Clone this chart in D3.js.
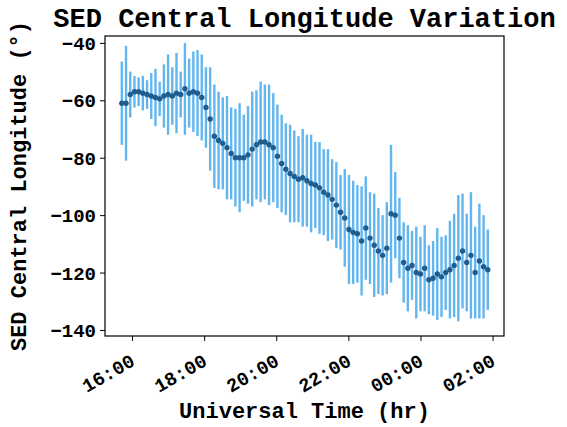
<!DOCTYPE html>
<html>
<head>
<meta charset="utf-8">
<script src="https://cdn.jsdelivr.net/npm/d3@7"></script>
<style>
  body { margin: 0; background: #fff; }
  svg text { font-family: "Liberation Mono", "DejaVu Sans Mono", monospace; font-weight: bold; fill: #000; }
</style>
</head>
<body>
<div id="chart"></div>
<script>
// observation times (UT), one every ~7 min, run crosses midnight
const times = [
  "15:43","15:50","15:57","16:04","16:11","16:18","16:25","16:32","16:39","16:46",
  "16:53","17:00","17:07","17:14","17:21","17:28","17:35","17:42","17:49","17:56",
  "18:03","18:10","18:17","18:24","18:31","18:38","18:45","18:52","18:59","19:06",
  "19:13","19:20","19:27","19:34","19:41","19:48","19:55","20:02","20:09","20:16",
  "20:23","20:30","20:37","20:44","20:51","20:58","21:05","21:12","21:19","21:26",
  "21:33","21:40","21:47","21:54","22:01","22:08","22:15","22:22","22:29","22:36",
  "22:43","22:50","22:57","23:04","23:11","23:18","23:25","23:32","23:39","23:46",
  "23:53","00:00","00:07","00:14","00:21","00:28","00:35","00:42","00:49","00:56",
  "01:03","01:10","01:17","01:24","01:31","01:38","01:45","01:52"
];

// central longitude (deg)
const longitude = [
  -61, -61, -58, -57, -57, -57.5, -58, -58.5, -59, -59.5,
  -58.5, -58, -58.5, -57.5, -58, -56, -57.5, -57, -57.5, -59,
  -62.5, -66.5, -72.5, -74, -75, -76.5, -78.5, -80, -80, -80,
  -79, -77, -75.5, -74.5, -74.5, -75.5, -76.5, -79.5, -82, -84,
  -85.5, -86.5, -87.5, -87, -88, -89, -89.5, -90.5, -92, -93,
  -94.5, -96.5, -99, -101, -105, -106, -106.5, -109, -104.5, -108,
  -110.5, -112.5, -114, -111.5, -99.5, -100, -108, -116.5, -118.5, -117.5,
  -120, -120.5, -118.5, -122.5, -122, -120.5, -121.5, -120, -119, -117.5,
  -115, -112.5, -116.5, -114, -120, -116, -118, -119
];

// error bar half-widths (deg)
const longitudeErr = [
  14.5, 20, 8, 5.5, 5, 6, 5, 8, 10, 6,
  11, 14, 10, 14, 8, 16, 12, 14, 15, 15,
  14, 18, 18, 17, 16, 18, 16, 17, 19, 15,
  17, 20, 19, 21, 20, 21, 19, 18, 17, 16,
  17, 16, 15, 17, 16, 17, 15, 16, 15, 16,
  14, 15, 13, 17, 19, 18, 17, 19, 18, 16,
  18, 15, 14, 16, 24, 15, 14, 14, 15, 12,
  16, 13, 15, 12, 13, 16, 14, 13, 17, 18,
  22, 20, 17, 22, 16, 20, 18, 14
];

const xTickLabels = ["16:00", "18:00", "20:00", "22:00", "00:00", "02:00"];
const yTicks = [-40, -60, -80, -100, -120, -140];
const xDomainLabels = ["15:15", "02:19"];
const yDomain = [-142.1, -37.6];

// "HH:MM" -> Date; early-morning hours belong to the next day
function parseUT(s) {
  const [h, m] = s.split(":").map(Number);
  return new Date(2024, 0, h < 12 ? 2 : 1, h, m);
}

const width = 567, height = 427;
const margin = { top: 36, right: 63, bottom: 91, left: 105 };
const innerW = width - margin.left - margin.right;
const innerH = height - margin.top - margin.bottom;

const data = times.map((t, i) => ({ t: parseUT(t), v: longitude[i], e: longitudeErr[i] }));

const svg = d3.select("#chart").append("svg")
  .attr("width", width)
  .attr("height", height);

const g = svg.append("g")
  .attr("transform", `translate(${margin.left},${margin.top})`);

const x = d3.scaleTime()
  .domain(xDomainLabels.map(parseUT))
  .range([0, innerW]);

const y = d3.scaleLinear()
  .domain(yDomain)
  .range([innerH, 0]);

// error bars
g.selectAll(".err")
  .data(data)
  .enter().append("line")
  .attr("class", "err")
  .attr("x1", d => x(d.t))
  .attr("x2", d => x(d.t))
  .attr("y1", d => y(d.v - d.e))
  .attr("y2", d => y(d.v + d.e))
  .attr("stroke", "#62b6ef")
  .attr("stroke-width", 2.4);

// points
g.selectAll(".pt")
  .data(data)
  .enter().append("circle")
  .attr("class", "pt")
  .attr("cx", d => x(d.t))
  .attr("cy", d => y(d.v))
  .attr("r", 2.7)
  .attr("fill", "#1f5d8f");

// axes
const yAxis = g.append("g")
  .call(d3.axisLeft(y).tickValues(yTicks).tickSize(5).tickPadding(4).tickFormat(d3.format("d")));
yAxis.select(".domain").remove();
yAxis.selectAll("text").style("font-size", "19px").attr("dy", "0.35em");

const xAxis = g.append("g")
  .attr("transform", `translate(0,${innerH})`)
  .call(d3.axisBottom(x).tickValues(xTickLabels.map(parseUT)).tickSize(5).tickFormat(d3.timeFormat("%H:%M")));
xAxis.select(".domain").remove();
xAxis.selectAll("text")
  .style("font-size", "19px")
  .attr("text-anchor", "end")
  .attr("dy", "0.7em")
  .attr("y", 0)
  .attr("transform", "translate(-3,17) rotate(-30)");

// frame
g.append("rect")
  .attr("width", innerW)
  .attr("height", innerH)
  .attr("fill", "none")
  .attr("stroke", "#000")
  .attr("stroke-width", 1.2);

// title and labels
svg.append("text")
  .attr("x", margin.left + innerW / 2)
  .attr("y", 27)
  .attr("text-anchor", "middle")
  .style("font-size", "27px")
  .text("SED Central Longitude Variation");

svg.append("text")
  .attr("x", margin.left + innerW / 2)
  .attr("y", 418)
  .attr("text-anchor", "middle")
  .style("font-size", "22px")
  .text("Universal Time (hr)");

svg.append("text")
  .attr("transform", `translate(26,${margin.top + innerH / 2}) rotate(-90)`)
  .attr("text-anchor", "middle")
  .style("font-size", "22px")
  .text("SED Central Longitude (°)");
</script>
</body>
</html>
